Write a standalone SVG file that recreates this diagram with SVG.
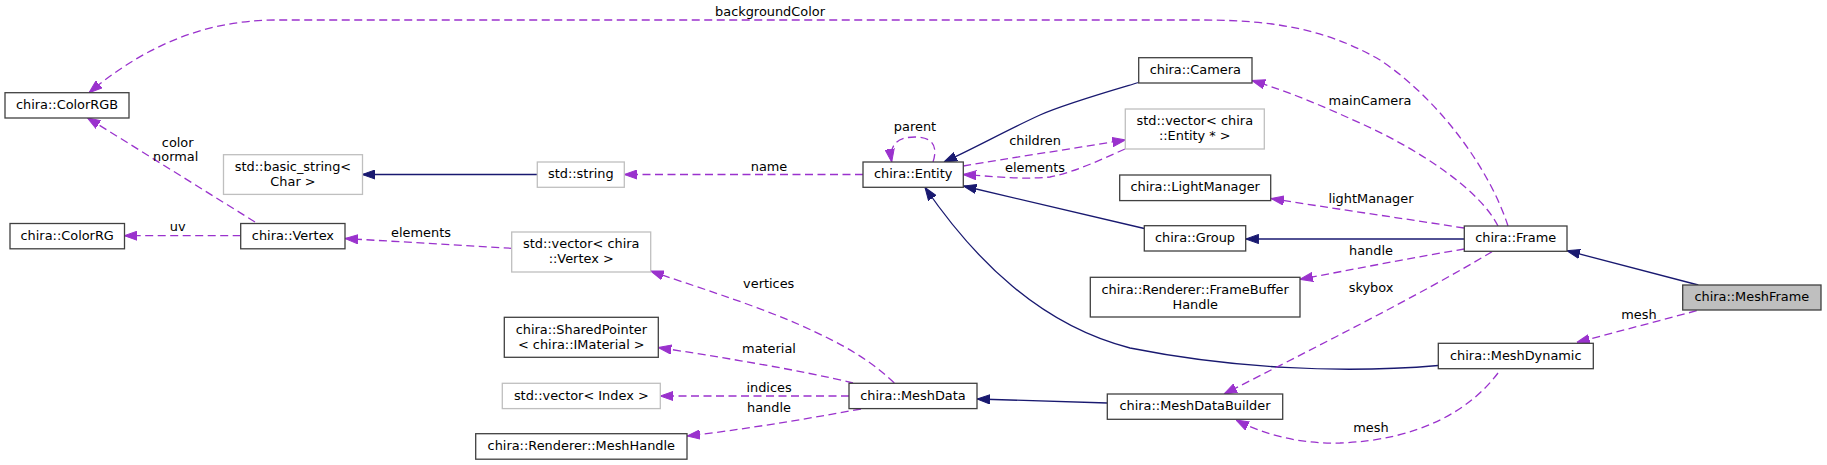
<svg xmlns="http://www.w3.org/2000/svg" width="1827" height="465" viewBox="0 0 1827 465">
<style>
text{font-family:"DejaVu Sans","Liberation Sans",sans-serif;font-size:12.9px;fill:#000;text-anchor:middle}
.n rect{fill:#fff;stroke:#404040;stroke-width:1.3}
.g rect{fill:#fff;stroke:#bfbfbf;stroke-width:1.3}
.inh{fill:none;stroke:#191970;stroke-width:1.3;marker-end:url(#an)}
.use{fill:none;stroke:#9a32cd;stroke-width:1.3;stroke-dasharray:8,4.5;marker-end:url(#ap)}
</style>
<defs>
<marker id="an" markerUnits="userSpaceOnUse" viewBox="0 0 13 10" refX="13" refY="5" markerWidth="13" markerHeight="10" orient="auto"><path d="M0,0.4 L13,5 L0,9.6 z" fill="#191970" stroke="#191970" stroke-width="1"/></marker>
<marker id="ap" markerUnits="userSpaceOnUse" viewBox="0 0 13 10" refX="13" refY="5" markerWidth="13" markerHeight="10" orient="auto"><path d="M0,0.4 L13,5 L0,9.6 z" fill="#9a32cd" stroke="#9a32cd" stroke-width="1"/></marker>
</defs>
<rect width="1827" height="465" fill="#fff"/>
<g id="edges">
<path class="inh" d="M537.3,174.5 L362.3,174.5"/>
<path class="inh" d="M1138.7,82.5 C1100,94 1065,104 1040,115 C1005,131 975,148 944,162"/>
<path class="inh" d="M1144.3,228.5 L963.5,186"/>
<path class="inh" d="M1438.3,365.5 C1340,374 1230,368 1130,348 C1040,325 975,260 925,187.5"/>
<path class="inh" d="M1107.3,403 L977,399"/>
<path class="inh" d="M1464.3,239 L1245.7,239"/>
<path class="inh" d="M1698.3,285 L1567,250.7"/>
<path class="use" d="M1508,226 C1490,170 1440,100 1380,60 C1320,25 1260,20 1200,20 L277,20 C200,20 140,50 89,92.7"/>
<path class="use" d="M255,222 L87.3,117.7"/>
<path class="use" d="M240.7,235.7 L124.3,235.7"/>
<path class="use" d="M511.7,248.3 L345,238.5"/>
<path class="use" d="M863,174.5 L624.3,174.5"/>
<path class="use" d="M933,162 C937,150 936,137 915,137 C897,137 889,145 891.7,162"/>
<path class="use" d="M963.3,166 C1010,158 1070,149 1125.3,140"/>
<path class="use" d="M1125,149 C1100,160 1075,172 1050,177 C1020,180 990,176 963.3,174.5"/>
<path class="use" d="M1498,226 C1480,190 1420,150 1360,123 C1320,105 1290,92 1252,80.5"/>
<path class="use" d="M1464,228 C1400,218 1330,208 1271,198.5"/>
<path class="use" d="M1464.3,249 C1410,258 1350,270 1300,279.3"/>
<path class="use" d="M1492,251.7 C1420,295 1310,350 1224,394"/>
<path class="use" d="M1696.7,310.7 L1576.7,342.5"/>
<path class="use" d="M1498,373 C1470,410 1420,440 1340,443 C1300,444 1265,435 1236,420"/>
<path class="use" d="M894.3,383 C870,360 845,345 800,325 C750,303 690,285 650.7,271"/>
<path class="use" d="M853,383 C800,370 720,357 658.3,347.5"/>
<path class="use" d="M849,396 L660.3,396"/>
<path class="use" d="M861,409 C800,420 740,430 687,436"/>
<text x="770" y="16">backgroundColor</text>
<text x="177.7" y="147">color</text>
<text x="175.7" y="161">normal</text>
<text x="177.7" y="231">uv</text>
<text x="421" y="236.5">elements</text>
<text x="769" y="171">name</text>
<text x="915" y="130.5">parent</text>
<text x="1035" y="145">children</text>
<text x="1035" y="171.5">elements</text>
<text x="1370" y="104.5">mainCamera</text>
<text x="1371" y="202.5">lightManager</text>
<text x="1371" y="255">handle</text>
<text x="1371" y="292.4">skybox</text>
<text x="1639" y="319">mesh</text>
<text x="1371" y="431.5">mesh</text>
<text x="768.7" y="288">vertices</text>
<text x="769" y="353">material</text>
<text x="769" y="392">indices</text>
<text x="769" y="412">handle</text>
</g>
<g id="ColorRGB" class="n"><rect x="5" y="92.7" width="124" height="25.3"/><text x="67" y="108.9">chira::ColorRGB</text></g>
<g id="ColorRG" class="n"><rect x="10" y="223.5" width="114.5" height="25.3"/><text x="67.2" y="239.7">chira::ColorRG</text></g>
<g id="Vertex" class="n"><rect x="240.7" y="223.5" width="104.3" height="25.3"/><text x="292.9" y="239.7">chira::Vertex</text></g>
<g id="basic_string" class="g"><rect x="223.5" y="154.7" width="139" height="39.7"/><text x="293" y="171">std::basic_string&lt;</text><text x="293" y="186">Char &gt;</text></g>
<g id="string" class="g"><rect x="537.3" y="162" width="87" height="25.3"/><text x="580.8" y="178.2">std::string</text></g>
<g id="vector_Vertex" class="g"><rect x="511.7" y="232" width="139" height="40"/><text x="581.2" y="248.3">std::vector&lt; chira</text><text x="581.2" y="263.3">::Vertex &gt;</text></g>
<g id="SharedPointer" class="n"><rect x="504.3" y="317.3" width="154" height="40"/><text x="581.3" y="333.6">chira::SharedPointer</text><text x="581.3" y="348.6">&lt; chira::IMaterial &gt;</text></g>
<g id="vector_Index" class="g"><rect x="502.3" y="383.3" width="158" height="25.3"/><text x="581.3" y="399.5">std::vector&lt; Index &gt;</text></g>
<g id="MeshHandle" class="n"><rect x="475.7" y="433.7" width="211.3" height="25.5"/><text x="581.3" y="449.9">chira::Renderer::MeshHandle</text></g>
<g id="Entity" class="n"><rect x="863" y="162" width="100.3" height="25.3"/><text x="913.2" y="178.2">chira::Entity</text></g>
<g id="MeshData" class="n"><rect x="849" y="383.3" width="128" height="25.3"/><text x="913" y="399.5">chira::MeshData</text></g>
<g id="Camera" class="n"><rect x="1138.7" y="57.7" width="113.3" height="25.3"/><text x="1195.3" y="73.9">chira::Camera</text></g>
<g id="vector_Entity" class="g"><rect x="1125.3" y="109" width="139" height="40"/><text x="1194.8" y="125.3">std::vector&lt; chira</text><text x="1194.8" y="140.3">::Entity * &gt;</text></g>
<g id="LightManager" class="n"><rect x="1119.7" y="175" width="151" height="25.6"/><text x="1195.2" y="191.2">chira::LightManager</text></g>
<g id="Group" class="n"><rect x="1144.3" y="225.7" width="101.4" height="25.3"/><text x="1195" y="241.9">chira::Group</text></g>
<g id="FrameBufferHandle" class="n"><rect x="1090.3" y="277.3" width="209.7" height="39.7"/><text x="1195.2" y="293.6">chira::Renderer::FrameBuffer</text><text x="1195.2" y="308.6">Handle</text></g>
<g id="MeshDataBuilder" class="n"><rect x="1107.3" y="394" width="175.4" height="25.3"/><text x="1195" y="410.2">chira::MeshDataBuilder</text></g>
<g id="Frame" class="n"><rect x="1464.3" y="226" width="102.7" height="25.3"/><text x="1515.7" y="242.2">chira::Frame</text></g>
<g id="MeshDynamic" class="n"><rect x="1438.3" y="343.3" width="155" height="25.4"/><text x="1515.8" y="359.5">chira::MeshDynamic</text></g>
<g id="MeshFrame" class="n"><rect x="1682.7" y="285" width="138.3" height="25" style="fill:#bfbfbf"/><text x="1751.8" y="301.2">chira::MeshFrame</text></g>
</svg>
